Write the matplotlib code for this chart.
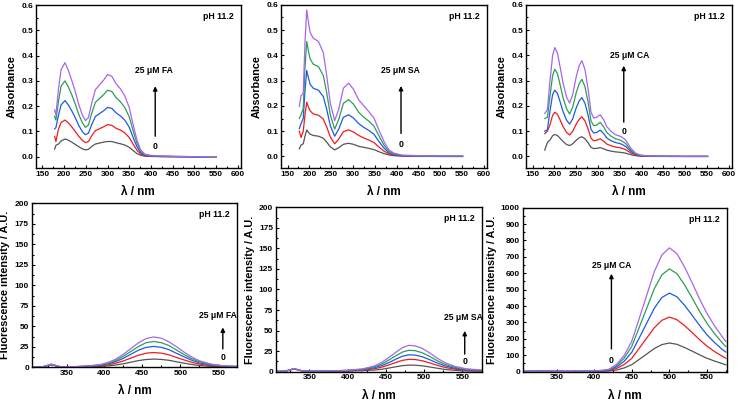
import matplotlib
matplotlib.use("Agg")
import matplotlib.pyplot as plt
from matplotlib.ticker import MultipleLocator, AutoMinorLocator

plt.rcParams['font.family'] = ['Liberation Sans', 'DejaVu Sans']
plt.rcParams['font.weight'] = 'bold'

colors = ['#555555', '#f01c1c', '#1c5ae8', '#2aa050', '#a865ee']

# ---- absorbance, FA
wl_abs_fa = [178, 181, 187, 193, 202, 210, 218, 226, 234, 242, 249, 256, 264, 272, 282, 292,
             300, 310, 320, 330, 340, 350, 360, 368, 376, 386, 400, 420, 460, 500, 551]
abs_fa = [
    [.03, .045, .05, .062, .07, .065, .057, .048, .039, .031, .027, .029, .041, .05, .054, .058,
     .06, .06, .055, .051, .046, .037, .023, .012, .006, .002, .001, .0, .0, .0, .0],
    [.08, .06, .11, .135, .145, .133, .117, .099, .08, .064, .056, .06, .084, .103, .111, .119,
     .127, .124, .112, .105, .094, .076, .047, .025, .011, .004, .002, .001, .0, .0, .0],
    [.11, .115, .165, .205, .222, .204, .18, .153, .123, .099, .087, .093, .129, .159, .171, .183,
     .195, .191, .173, .161, .144, .117, .072, .039, .017, .006, .003, .001, .0, -.002, .0],
    [.16, .145, .22, .28, .30, .275, .243, .207, .166, .134, .116, .125, .174, .215, .231, .247,
     .263, .258, .233, .217, .194, .158, .097, .053, .023, .008, .004, .002, .001, .0, .0],
    [.185, .165, .27, .345, .372, .34, .30, .255, .205, .165, .143, .155, .215, .265, .285, .305,
     .325, .318, .288, .268, .24, .195, .12, .065, .028, .01, .005, .003, .001, .0, .0],
]

# ---- absorbance, SA
wl_abs_sa = [177, 181, 186, 190, 194, 198, 202, 209, 221, 232, 240, 248, 258, 267, 278, 290,
             301, 313, 325, 336, 348, 359, 371, 382, 394, 413, 450, 500, 551]
abs_sa = [
    [.03, .045, .05, .08, .105, .095, .088, .083, .08, .072, .056, .038, .026, .034, .048, .052,
     .048, .04, .036, .032, .027, .019, .011, .006, .003, .001, .0, .0, .0],
    [.10, .075, .10, .165, .215, .195, .18, .168, .163, .148, .116, .077, .05, .068, .098, .105,
     .097, .083, .073, .065, .055, .038, .021, .01, .005, .002, .001, .0, .0],
    [.11, .13, .15, .26, .34, .31, .285, .27, .262, .237, .185, .122, .08, .107, .155, .165,
     .152, .13, .115, .103, .088, .06, .033, .015, .007, .003, .001, .0, .0],
    [.15, .165, .19, .35, .455, .415, .385, .365, .355, .32, .25, .165, .108, .145, .21, .225,
     .207, .175, .155, .14, .12, .083, .045, .02, .01, .004, .002, .001, .001],
    [.198, .24, .25, .45, .58, .53, .49, .468, .455, .41, .317, .211, .142, .185, .27, .29,
     .266, .224, .20, .178, .152, .106, .059, .026, .013, .005, .003, .002, .002],
]

# ---- absorbance, CA
wl_abs_ca = [178, 184, 190, 196, 201, 207, 213, 220, 228, 235, 242, 250, 257, 263, 270, 277,
             284, 290, 297, 305, 313, 320, 330, 340, 352, 363, 375, 386, 398, 420, 460, 500, 551]
abs_ca = [
    [.025, .055, .065, .082, .087, .083, .072, .059, .047, .043, .05, .064, .074, .078, .07, .055,
     .036, .031, .032, .035, .03, .025, .021, .018, .016, .013, .007, .003, .001, .0, .0, .0, .0],
    [.09, .10, .125, .163, .175, .167, .145, .118, .095, .085, .099, .128, .147, .157, .141, .11,
     .072, .062, .064, .07, .06, .049, .042, .037, .034, .027, .014, .005, .002, .001, .0, .0, .0],
    [.10, .105, .18, .245, .262, .25, .217, .177, .143, .128, .149, .192, .22, .233, .211, .165,
     .107, .093, .095, .104, .09, .073, .062, .055, .05, .04, .02, .008, .003, .001, .0, .0, .0],
    [.15, .155, .24, .32, .345, .328, .285, .232, .188, .168, .195, .252, .288, .305, .277, .217,
     .14, .122, .124, .135, .117, .095, .08, .07, .064, .052, .026, .01, .004, .002, .001, .0, .0],
    [.17, .185, .30, .40, .431, .41, .356, .29, .235, .211, .245, .315, .36, .379, .345, .27,
     .175, .152, .155, .165, .145, .118, .099, .086, .079, .066, .033, .013, .005, .002, .001, .0, .0],
]

# ---- fluorescence, FA
wl_fl_fa = [305, 318, 325, 330, 335, 342, 360, 380, 395, 405, 415, 425, 435, 445, 455, 465,
            475, 485, 495, 505, 515, 525, 540, 555, 575]
fl_fa = [
    [0.3, 0.4, 2.0, 3.0, 2.0, 0.5, 0.4, 0.6, 1.0, 1.7, 2.8, 4.3, 6.3, 8.2, 9.5, 10,
     9.6, 8.5, 6.7, 5, 3.4, 2.2, 1.1, 0.6, 0.3],
    [0.3, 0.4, 2.0, 3.2, 2.0, 0.5, 0.5, 1.0, 1.8, 3.0, 5, 7.8, 11.3, 14.8, 17.2, 18,
     17.2, 15.2, 12, 9, 6.1, 3.9, 2.0, 1.0, 0.6],
    [0.3, 0.5, 2.2, 3.4, 2.2, 0.6, 0.6, 1.4, 2.6, 4.2, 7, 11, 16, 21, 24.3, 25.5,
     24.3, 21.5, 17, 12.7, 8.6, 5.5, 2.8, 1.4, 0.8],
    [0.3, 0.5, 2.3, 3.6, 2.3, 0.6, 0.7, 1.6, 3.0, 5, 8.5, 13.5, 19.5, 25.5, 30, 31.5,
     30, 26.5, 21, 15.5, 10.5, 6.8, 3.4, 1.7, 1.0],
    [0.3, 0.5, 2.5, 4.0, 2.5, 0.6, 0.8, 1.8, 3.5, 6, 10, 16, 23, 30, 35, 37,
     35.5, 31, 25, 18.5, 12.5, 8, 4, 2, 1.2],
]

# ---- fluorescence, SA
wl_fl_sa = [305, 318, 325, 330, 335, 342, 360, 380, 400, 420, 435, 445, 455, 465, 472, 480,
            488, 497, 507, 517, 527, 540, 555, 575]
fl_sa = [
    [0.3, 0.5, 2.2, 3.3, 2.2, 0.5, 0.4, 0.5, 0.8, 1.2, 2.0, 3.0, 4.6, 6.3, 7.4, 8,
     7.9, 7.2, 5.8, 4.2, 2.8, 1.7, 0.9, 0.5],
    [0.3, 0.5, 2.2, 3.4, 2.2, 0.5, 0.5, 0.7, 1.1, 2.0, 3.6, 5.6, 8.6, 11.8, 13.9, 15,
     14.8, 13.4, 10.8, 7.8, 5.2, 3.1, 1.7, 1.0],
    [0.3, 0.5, 2.3, 3.5, 2.3, 0.6, 0.5, 0.8, 1.4, 2.5, 4.8, 7.5, 11.6, 16.1, 18.9, 20.5,
     20.2, 18.3, 14.7, 10.6, 7.1, 4.2, 2.3, 1.3],
    [0.3, 0.5, 2.4, 3.6, 2.4, 0.6, 0.6, 0.9, 1.6, 3.0, 6, 9.5, 14.8, 20.5, 24, 26,
     25.6, 23.2, 18.7, 13.4, 9, 5.3, 2.9, 1.6],
    [0.3, 0.5, 2.5, 3.8, 2.5, 0.6, 0.6, 1.0, 1.8, 3.5, 7, 11.5, 18, 25, 29.5, 32,
     31.5, 28.5, 23, 16.5, 11, 6.5, 3.5, 2.0],
]

# ---- fluorescence, CA
wl_fl_ca = [305, 330, 360, 390, 410, 420, 430, 440, 450, 460, 470, 480, 490, 500, 510, 520,
            530, 540, 550, 560, 570, 575]
fl_ca = [
    [2, 3, 2, 2, 3, 4, 10, 23, 43, 75, 108, 141, 165, 175, 167, 148, 126, 103, 82, 65, 50, 42],
    [2, 3, 2, 2, 4, 7, 20, 44, 81, 143, 206, 268, 313, 333, 317, 282, 240, 196, 156, 123, 95, 82],
    [2, 3, 2, 2, 5, 10, 29, 64, 118, 206, 297, 387, 452, 479, 457, 406, 346, 283, 225, 178, 137, 120],
    [2, 3, 2, 3, 7, 13, 38, 83, 154, 270, 388, 506, 590, 627, 598, 531, 452, 369, 295, 232, 178, 153],
    [2, 3, 2, 3, 8, 15, 45, 100, 185, 325, 467, 610, 711, 755, 720, 640, 545, 445, 355, 280, 215, 185],
]

panels = [
    # rect, x, ys, xlim, ylim, major x, major y, ylabel, label, arrow x, arrow from/to, "0" y, label y, label x
    ([0.0486, 0.5824, 0.2766, 0.405], wl_abs_fa, abs_fa, (135, 607), (-0.046, 0.6), 50, 0.1,
     'Absorbance', '25 μM FA', 410, (0.07, 0.29), 0.04, 0.343, 406),
    ([0.3797, 0.5830, 0.2784, 0.405], wl_abs_sa, abs_sa, (135, 607), (-0.046, 0.6), 50, 0.1,
     'Absorbance', '25 μM SA', 410, (0.08, 0.29), 0.046, 0.34, 408),
    ([0.7108, 0.5830, 0.2784, 0.405], wl_abs_ca, abs_ca, (135, 607), (-0.046, 0.6), 50, 0.1,
     'Absorbance', '25 μM CA', 359, (0.125, 0.37), 0.10, 0.40, 372),
    ([0.0428, 0.0886, 0.2778, 0.407], wl_fl_fa, fl_fa, (304, 575), (0, 200), 50, 25,
     'Fluorescence intensity / A.U.', '25 μM FA', 556, (19, 52), 11.8, 63, 550),
    ([0.3726, 0.0777, 0.2792, 0.408], wl_fl_sa, fl_sa, (306, 576), (0, 200), 50, 25,
     'Fluorescence intensity / A.U.', '25 μM SA', 553, (18, 53), 12.6, 66, 551),
    ([0.7063, 0.0777, 0.2765, 0.407], wl_fl_ca, fl_ca, (305, 577), (0, 1000), 50, 100,
     'Fluorescence intensity / A.U.', '25 μM CA', 423, (122, 614), 67, 650, 424),
]

fig = plt.figure(figsize=(7.40, 4.03), dpi=100)

for i, (rect, wl, ys, xl, yl, mx, my, ylab, lab, ax_x, arr, zy, ty, tx) in enumerate(panels):
    ax = fig.add_axes(rect)
    for c, y in zip(colors, ys):
        ax.plot(wl, y, color=c, lw=0.9)
    ax.set_xlim(*xl)
    ax.set_ylim(*yl)
    ax.xaxis.set_major_locator(MultipleLocator(mx))
    ax.yaxis.set_major_locator(MultipleLocator(my))
    ax.xaxis.set_minor_locator(AutoMinorLocator(2))
    ax.yaxis.set_minor_locator(AutoMinorLocator(2))
    ax.tick_params(which='both', direction='in', labelsize=6, width=0.8, pad=2)
    ax.tick_params(which='major', length=2.5)
    ax.tick_params(which='minor', length=1.5)
    for s in ax.spines.values():
        s.set_linewidth(1.0)
    if i < 3:
        ax.yaxis.set_major_formatter(plt.FuncFormatter(lambda v, p: f'{v:.1f}'))
    ax.set_xlabel('λ / nm', fontsize=8.5, fontweight='bold', labelpad=6)
    ax.set_ylabel(ylab, fontsize=7.8, fontweight='bold', labelpad=3)
    ax.text(0.965, 0.93, 'pH 11.2', transform=ax.transAxes, ha='right', va='center',
            fontsize=6.3, fontweight='bold')
    ax.annotate('', xy=(ax_x, arr[1]), xytext=(ax_x, arr[0]),
                arrowprops=dict(arrowstyle='-|>', color='k', lw=1.0, mutation_scale=6))
    ax.text(ax_x, zy, '0', ha='center', va='center', fontsize=6.2, fontweight='bold')
    ax.text(tx, ty, lab, ha='center', va='center', fontsize=6.2, fontweight='bold')

fig.savefig('out.png', dpi=100)
